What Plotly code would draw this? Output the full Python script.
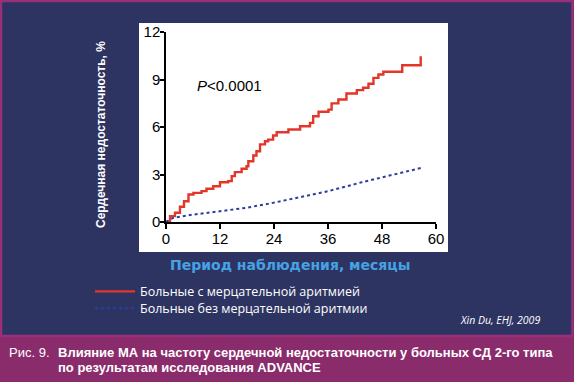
import plotly.graph_objects as go

# ---- data ----
months_af = [0, 0.9, 2.0, 3.1, 4.0, 5.0, 6.1, 7.9, 9.0, 10.5, 12.0, 13.8, 14.6, 15.3,
             16.8, 17.9, 18.3, 19.4, 20.1, 20.9, 22.0, 22.7, 23.8, 24.6, 27.2, 29.8,
             32.0, 32.7, 33.9, 36.1, 36.8, 38.3, 40.1, 42.4, 43.8, 45.0, 46.1, 47.2,
             48.3, 52.5, 56.6]
hf_af = [0, 0.37, 0.58, 0.96, 1.31, 1.74, 1.84, 1.95, 2.10, 2.26, 2.51, 2.58, 2.90, 3.15,
         3.36, 3.52, 3.84, 4.20, 4.47, 4.90, 5.10, 5.20, 5.46, 5.67, 5.84, 6.05,
         6.26, 6.68, 6.96, 7.10, 7.49, 7.74, 8.12, 8.33, 8.48, 8.73, 9.10, 9.32,
         9.49, 9.90, 10.47]
months_noaf = [0, 1.5, 3.1, 6.1, 12.0, 17.9, 23.8, 29.4, 36.1, 43.5, 50.9, 56.8]
hf_noaf = [0, 0.25, 0.33, 0.47, 0.68, 0.90, 1.21, 1.53, 1.95, 2.51, 3.00, 3.42]
x_ticks = [0, 12, 24, 36, 48, 60]
y_ticks = [0, 3, 6, 9, 12]
name_af = "Больные с мерцательной аритмией"
name_noaf = "Больные без мерцательной аритмии"

W, H = 574, 382
L, R, T, B = 166, 138, 32, 160
PW, PH = W - L - R, H - T - B


def px(x):
    return (x - L) / PW


def py(y):
    return (H - B - y) / PH


NAVY = "#2e3462"
PURPLE = "#8a2c6c"
SANS = "Liberation Sans, Arial, sans-serif"

fig = go.Figure()
fig.add_trace(go.Scatter(x=months_af, y=hf_af, mode="lines", name=name_af, legend="legend",
                         line=dict(color="#e2362b", width=2.4, shape="hv")))
fig.add_trace(go.Scatter(x=months_noaf, y=hf_noaf, mode="lines", name=name_noaf, legend="legend2",
                         line=dict(color="#2b3e9e", width=2, dash="dot")))

shapes = [
    # white chart panel
    dict(type="rect", xref="paper", yref="paper", x0=px(139), x1=px(448), y0=py(252), y1=py(23),
         fillcolor="white", line=dict(width=0), layer="below"),
    # caption band
    dict(type="rect", xref="paper", yref="paper", x0=px(0), x1=px(W), y0=py(H), y1=py(336),
         fillcolor=PURPLE, line=dict(width=0), layer="below"),
    # frame
    dict(type="rect", xref="paper", yref="paper", x0=px(1), x1=px(W - 1.5), y0=py(336), y1=py(1),
         fillcolor="rgba(0,0,0,0)", line=dict(color="#9a2f78", width=2.5), layer="below"),
]

annotations = [
    dict(text="<b>Сердечная недостаточность, %</b>", x=px(101), y=py(135), textangle=-90,
         font=dict(family=SANS, size=12, color="white")),
    dict(text="<i>P</i>&lt;0.0001", x=px(229), y=py(85),
         font=dict(family=SANS, size=15, color="black")),
    dict(text="<b>Период наблюдения, месяцы</b>", x=px(290), y=py(265),
         font=dict(family="DejaVu Sans", size=14, color="#45a2e4")),
    dict(text="<i>Xin Du, EHJ, 2009</i>", x=px(542), y=py(320), xanchor="right",
         font=dict(family="Open Sans", size=10.5, color="white")),
    dict(text="Рис. 9.", x=px(7), y=py(352), xanchor="left",
         font=dict(family=SANS, size=13, color="white")),
    dict(text="<b>Влияние МА на частоту сердечной недостаточности у больных СД 2-го типа</b>",
         x=px(55.5), y=py(352), xanchor="left",
         font=dict(family=SANS, size=13, color="white")),
    dict(text="<b>по результатам исследования ADVANCE</b>",
         x=px(55.5), y=py(367), xanchor="left",
         font=dict(family=SANS, size=13, color="white")),
]
for a in annotations:
    a.setdefault("xanchor", "center")
    a.update(xref="paper", yref="paper", showarrow=False, yanchor="middle")

legend_common = dict(xref="container", yref="container", xanchor="left", yanchor="middle",
                     bgcolor="rgba(0,0,0,0)", itemwidth=40,
                     font=dict(family="Open Sans", size=12.5, color="white"))

fig.update_layout(
    width=W, height=H,
    margin=dict(l=L, r=R, t=T, b=B, autoexpand=False),
    paper_bgcolor=NAVY, plot_bgcolor="white",
    shapes=shapes, annotations=annotations,
    showlegend=True,
    legend=dict(legend_common, x=90 / W, y=1 - 291.7 / H),
    legend2=dict(legend_common, x=90 / W, y=1 - 308.7 / H),
    xaxis=dict(range=[0, 60], tickvals=x_ticks, showgrid=False, zeroline=False,
               showline=True, linecolor="black", linewidth=1.5,
               ticks="outside", ticklen=5, tickcolor="black", tickwidth=1.5,
               ticklabelstandoff=-3,
               tickfont=dict(family=SANS, size=15, color="black")),
    yaxis=dict(range=[0, 12], tickvals=y_ticks, showgrid=False, zeroline=False,
               showline=True, linecolor="black", linewidth=1.5,
               ticks="outside", ticklen=4, tickcolor="black", tickwidth=1.5,
               ticklabelstandoff=-3,
               tickfont=dict(family=SANS, size=15, color="black")),
)

fig.write_html("out.html", config={"displayModeBar": False},
               post_script="document.body.style.margin='0';")
